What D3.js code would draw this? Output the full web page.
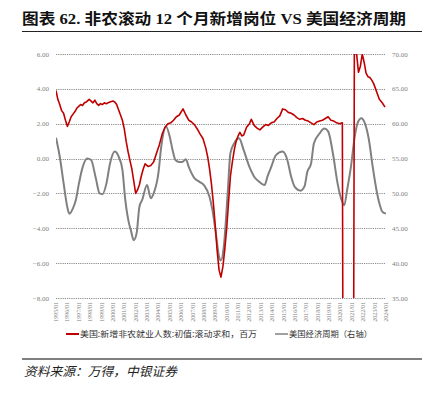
<!DOCTYPE html>
<html>
<head>
<meta charset="utf-8">
<script src="https://cdn.jsdelivr.net/npm/d3@7"></script>
<style>
  body { margin: 0; background: #fff; }
  svg { display: block; }
</style>
</head>
<body>
<div id="chart"></div>
<script>
// 非农滚动12个月新增岗位（左轴，百万）
const redDates = ["1995-01","1995-03","1995-05","1995-07","1995-09","1995-11","1996-01","1996-03","1996-05","1996-07","1996-09","1996-11",
  "1997-01","1997-03","1997-05","1997-07","1997-09","1997-12","1998-02","1998-04","1998-06","1998-08","1998-10","1998-12",
  "1999-02","1999-04","1999-06","1999-08","1999-10","2000-01","2000-03","2000-05","2000-07","2000-09","2000-11",
  "2001-01","2001-03","2001-05","2001-07","2001-09","2001-11","2002-01","2002-03","2002-05","2002-07","2002-09","2002-11",
  "2003-02","2003-05","2003-08","2003-11","2004-02","2004-05","2004-08","2004-11","2005-02","2005-05","2005-08","2005-11",
  "2006-03","2006-06","2006-09","2006-12","2007-03","2007-06","2007-09","2007-12","2008-03","2008-05","2008-07","2008-09","2008-11",
  "2009-01","2009-03","2009-05","2009-07","2009-09","2009-11","2010-01","2010-03","2010-05","2010-07","2010-09","2010-11",
  "2011-01","2011-03","2011-05","2011-07","2011-10","2012-01","2012-03","2012-06","2012-09","2012-12",
  "2013-03","2013-06","2013-09","2013-12","2014-03","2014-06","2014-09","2014-12","2015-03","2015-06","2015-09","2015-12",
  "2016-03","2016-06","2016-09","2016-12","2017-03","2017-06","2017-09","2017-12","2018-03","2018-06","2018-09","2018-12",
  "2019-03","2019-06","2019-09","2019-12","2020-03","2020-04","2020-07","2020-10","2021-02","2021-03","2021-04","2021-05",
  "2021-06","2021-08","2021-10","2021-12","2022-02","2022-04","2022-06","2022-08","2022-10","2022-12",
  "2023-02","2023-04","2023-06","2023-09","2023-12"];
const redValues = [3.9,3.4,3.1,2.75,2.6,2.2,1.85,2.1,2.4,2.55,2.7,2.9,
  3.0,3.1,3.05,3.2,3.25,3.4,3.3,3.2,3.35,3.15,3.05,3.15,
  3.1,3.2,3.15,3.2,3.25,3.3,3.25,3.1,2.8,2.5,2.2,
  1.7,1.0,0.4,-0.1,-0.6,-1.3,-2.0,-1.8,-1.5,-1.0,-0.6,-0.3,
  -0.45,-0.4,-0.2,0.3,0.8,1.4,1.8,2.0,2.05,2.2,2.4,2.5,
  2.85,2.5,2.2,2.1,1.95,1.7,1.4,1.15,0.6,0.1,-0.6,-1.5,-2.6,
  -3.9,-5.3,-6.4,-6.8,-6.2,-5.2,-4.0,-2.5,-1.0,-0.2,0.5,1.0,
  1.3,1.5,1.3,1.35,1.8,2.0,2.25,1.9,1.75,1.65,
  1.8,1.95,1.9,2.05,2.1,2.3,2.45,2.85,2.8,2.65,2.6,2.5,
  2.35,2.25,2.3,2.2,2.15,2.05,1.95,2.1,2.15,2.2,2.3,2.4,
  2.2,2.15,2.05,2.0,2.05,-19.5,-12,-10,-9.5,-8.5,14,9,
  6.0,4.95,5.3,6.0,5.5,4.9,4.7,4.65,4.5,4.3,
  4.0,3.7,3.4,3.2,2.95];

// 美国经济周期（右轴）
const grayDates = ["1995-01","1995-05","1995-09","1996-01","1996-03","1996-07","1996-10","1997-01","1997-05","1997-10",
  "1998-02","1998-07","1998-11","1999-02","1999-06","1999-10","2000-03","2000-07","2000-11","2001-02","2001-06","2001-08","2001-11",
  "2002-02","2002-05","2002-08","2003-01","2003-05","2003-08","2004-01","2004-04","2004-09","2005-01","2005-04","2005-07","2005-11",
  "2006-02","2006-06","2006-09","2007-03","2007-08","2008-01","2008-07","2008-10","2009-02","2009-05","2009-07","2009-10",
  "2010-02","2010-05","2010-09","2011-02","2011-07","2012-01","2012-06","2012-11","2013-05","2013-08","2013-12",
  "2014-05","2014-12","2015-05","2015-09","2016-01","2016-07","2016-11","2017-02","2017-06","2017-09","2018-03","2018-08","2018-12",
  "2019-05","2019-10","2020-02","2020-05","2020-08","2020-12","2021-04","2021-07","2021-11","2022-02","2022-07","2022-11",
  "2023-03","2023-06","2023-09","2024-01"];
const grayValues = [58.0,55.3,51.5,48.0,47.1,47.9,49.1,51.3,53.7,55.0,
  54.8,52.2,50.0,49.9,51.3,54.3,56.0,55.3,53.4,49.1,45.7,44.7,43.3,
  44.3,48.1,49.1,51.2,49.3,50.0,52.9,56.7,59.6,58.1,56.2,54.8,54.5,
  54.5,54.9,53.8,52.2,51.7,51.2,49.5,47.6,43.8,40.9,40.4,42.4,
  50.0,55.8,57.2,57.9,56.2,53.8,52.4,51.7,51.2,52.4,53.8,
  55.5,56.0,54.8,52.4,50.9,50.4,51.0,53.1,54.3,57.2,58.6,59.3,58.9,
  55.8,51.4,49.1,48.3,50.5,53.8,58.1,60.1,60.8,60.3,57.7,53.8,
  50.5,48.6,47.4,47.1];

const leftTicks = [6, 4, 2, 0, -2, -4, -6, -8];
const rightTicks = [70, 65, 60, 55, 50, 45, 40, 35];
const xTickLabels = ["1995/01","1996/01","1997/01","1998/01","1999/01","2000/01","2001/01","2002/01","2003/01","2004/01",
  "2005/01","2006/01","2007/01","2008/01","2009/01","2010/01","2011/01","2012/01","2013/01","2014/01",
  "2015/01","2016/01","2017/01","2018/01","2019/01","2020/01","2021/01","2022/01","2023/01","2024/01"];

const titleText = "图表 62. 非农滚动 12 个月新增岗位 VS 美国经济周期";
const legendRed = "美国:新增非农就业人数:初值:滚动求和，百万";
const legendGray = "美国经济周期（右轴）";
const sourceText = "资料来源：万得，中银证券";

const width = 434, height = 395;
const plotL = 56, plotR = 386, plotT = 54, plotB = 298;
const parseMonth = d3.timeParse("%Y-%m");
const parseTick = d3.timeParse("%Y/%m");

const svg = d3.select("#chart").append("svg")
    .attr("width", width)
    .attr("height", height);

const x = d3.scaleTime()
    .domain([parseTick("1995/01"), parseTick("2024/01")])
    .range([plotL, plotR]);
const yL = d3.scaleLinear().domain([-8, 6]).range([plotB, plotT]);
const yR = d3.scaleLinear().domain([35, 70]).range([plotB, plotT]);

// title
svg.append("text")
    .attr("x", 22).attr("y", 24)
    .attr("textLength", 384).attr("lengthAdjust", "spacingAndGlyphs")
    .style("font-family", "'Liberation Serif', 'Noto Sans CJK SC', serif")
    .style("font-weight", "bold")
    .style("font-size", "15px")
    .style("fill", "#111")
    .text(titleText);
svg.append("line")
    .attr("x1", 22).attr("x2", 422).attr("y1", 31.5).attr("y2", 31.5)
    .style("stroke", "#222").style("stroke-width", 1);

// grid
svg.append("g").selectAll("line")
    .data(leftTicks)
    .enter().append("line")
    .attr("x1", plotL).attr("x2", plotR)
    .attr("y1", d => Math.round(yL(d)) + 0.5)
    .attr("y2", d => Math.round(yL(d)) + 0.5)
    .style("stroke", "#8c8c8c")
    .style("stroke-width", 1)
    .style("stroke-dasharray", "1.2,1");

// left axis labels
svg.append("g").selectAll("text")
    .data(leftTicks)
    .enter().append("text")
    .attr("x", 49).attr("y", d => yL(d) + 2.5)
    .attr("text-anchor", "end")
    .style("font-family", "'Liberation Serif', serif")
    .style("font-size", "7px")
    .style("fill", "#7f7f7f")
    .text(d => d3.format(".2f")(d));

// right axis labels
svg.append("g").selectAll("text")
    .data(rightTicks)
    .enter().append("text")
    .attr("x", 392).attr("y", d => yR(d) + 2.5)
    .style("font-family", "'Liberation Serif', serif")
    .style("font-size", "7px")
    .style("fill", "#7f7f7f")
    .text(d => d3.format(".2f")(d));

// x labels (rotated)
svg.append("g").selectAll("text")
    .data(xTickLabels)
    .enter().append("text")
    .attr("transform", d => "translate(" + (x(parseTick(d)) + 2) + "," + 302 + ") rotate(-90)")
    .attr("text-anchor", "end")
    .style("font-family", "'Liberation Serif', serif")
    .style("font-size", "6px")
    .style("fill", "#7f7f7f")
    .text(d => d);

// clip
svg.append("clipPath").attr("id", "plot-clip")
  .append("rect")
    .attr("x", plotL).attr("y", plotT)
    .attr("width", plotR - plotL + 2).attr("height", plotB - plotT);

const plot = svg.append("g").attr("clip-path", "url(#plot-clip)");

const grayData = grayDates.map((d, i) => ({date: parseMonth(d), v: grayValues[i]}));
const redData = redDates.map((d, i) => ({date: parseMonth(d), v: redValues[i]}));

plot.append("path")
    .datum(grayData)
    .attr("d", d3.line().curve(d3.curveMonotoneX).x(d => x(d.date)).y(d => yR(d.v)))
    .style("fill", "none")
    .style("stroke", "#808080")
    .style("stroke-width", 2);

plot.append("path")
    .datum(redData)
    .attr("d", d3.line().x(d => x(d.date)).y(d => yL(d.v)))
    .style("fill", "none")
    .style("stroke", "#c00000")
    .style("stroke-width", 1.6)
    .style("stroke-linejoin", "round");

// legend
const legendFont = "'Noto Sans CJK SC', sans-serif";
svg.append("line")
    .attr("x1", 66).attr("x2", 79).attr("y1", 334).attr("y2", 334)
    .style("stroke", "#c00000").style("stroke-width", 2);
svg.append("text")
    .attr("x", 80).attr("y", 337)
    .attr("textLength", 177).attr("lengthAdjust", "spacingAndGlyphs")
    .style("font-family", legendFont)
    .style("font-size", "8.5px")
    .style("fill", "#333")
    .text(legendRed);
svg.append("line")
    .attr("x1", 275).attr("x2", 288).attr("y1", 334).attr("y2", 334)
    .style("stroke", "#808080").style("stroke-width", 1.5);
svg.append("text")
    .attr("x", 289).attr("y", 337)
    .attr("textLength", 83).attr("lengthAdjust", "spacingAndGlyphs")
    .style("font-family", legendFont)
    .style("font-size", "8.5px")
    .style("fill", "#333")
    .text(legendGray);

// bottom rule + source
svg.append("line")
    .attr("x1", 22).attr("x2", 422).attr("y1", 359).attr("y2", 359)
    .style("stroke", "#555").style("stroke-width", 1.5);
svg.append("text")
    .attr("x", 24).attr("y", 376)
    .attr("textLength", 153).attr("lengthAdjust", "spacingAndGlyphs")
    .style("font-family", legendFont)
    .style("font-style", "italic")
    .style("font-size", "12.5px")
    .style("fill", "#222")
    .text(sourceText);
</script>
</body>
</html>
